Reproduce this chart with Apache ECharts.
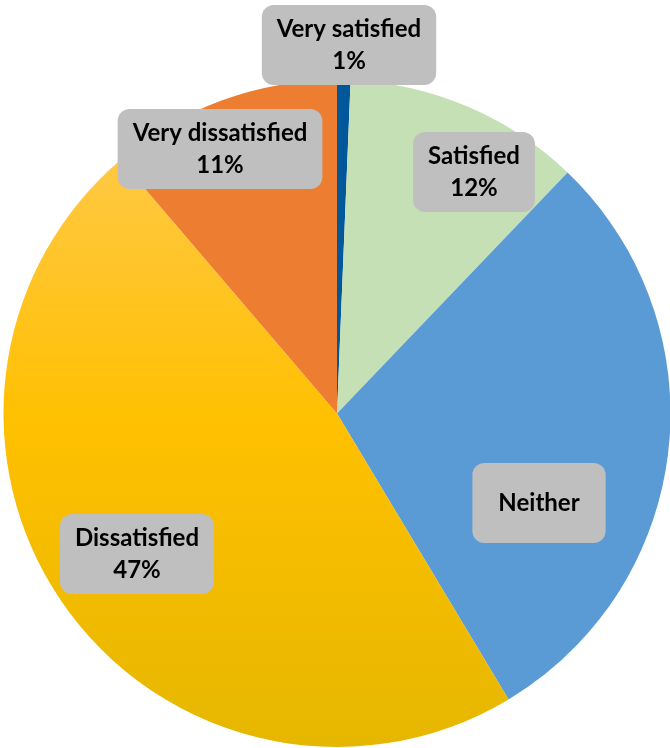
<!DOCTYPE html>
<html>
<head>
<meta charset="utf-8">
<script src="https://cdn.jsdelivr.net/npm/echarts@6/dist/echarts.min.js"></script>
<style>
  html, body { margin: 0; padding: 0; background: #fff; }
  #chart { width: 670px; height: 748px; }
</style>
</head>
<body>
<div id="chart"></div>
<script>
// slice data, clockwise from 12 o'clock
var names = ['Very satisfied', 'Satisfied', 'Neither', 'Dissatisfied', 'Very dissatisfied'];
var values = [0.65, 11.5, 29.25, 47.35, 11.25];
var showPct = [true, true, false, true, true];

var colors = [
    '#00589b',
    '#c5e0b4',
    '#5b9bd5',
    { type: 'linear', x: 0, y: 0, x2: 0, y2: 1,
      colorStops: [{ offset: 0, color: '#ffc843' }, { offset: 0.45, color: '#ffc000' }, { offset: 1, color: '#e6b700' }] },
    '#ed7d31'
];

// where each data label box sits (centre point)
var labelPos = [[349, 45], [474, 172], [539, 503], [137, 554], [220, 149]];

function buildData() {
    return names.map(function (n, i) {
        var item = { name: n, value: values[i], itemStyle: { color: colors[i] } };
        if (!showPct[i]) {
            item.label = { padding: [24, 26] };
        }
        return item;
    });
}

var myChart = echarts.init(document.getElementById('chart'));
myChart.setOption({
    animation: false,
    series: [{
        type: 'pie',
        center: [337, 413.5],
        radius: 333.5,
        startAngle: 90,
        clockwise: true,
        avoidLabelOverlap: false,
        itemStyle: { borderWidth: 0 },
        label: {
            show: true,
            position: 'inside',
            formatter: function (p) {
                if (!showPct[p.dataIndex]) {
                    return p.name;
                }
                return p.name + '\n' + Math.round(p.percent) + '%';
            },
            fontFamily: 'Lato',
            fontWeight: 'bold',
            fontSize: 24,
            lineHeight: 32,
            color: '#000',
            backgroundColor: '#bfbfbf',
            borderRadius: 12,
            padding: [8, 15]
        },
        labelLine: { show: false },
        labelLayout: function (params) {
            var pos = labelPos[params.dataIndex];
            return { x: pos[0], y: pos[1], align: 'center', verticalAlign: 'middle' };
        },
        emphasis: { disabled: true },
        data: buildData()
    }]
});
</script>
</body>
</html>
